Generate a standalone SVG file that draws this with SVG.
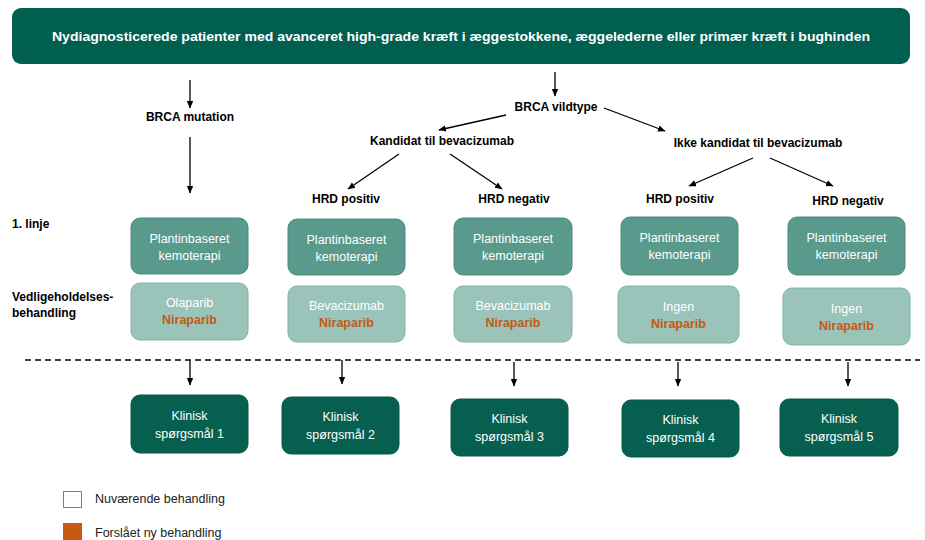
<svg xmlns="http://www.w3.org/2000/svg" width="925" height="540" viewBox="0 0 925 540">
<defs>
<marker id="ah" markerWidth="8" markerHeight="8" refX="7" refY="4" orient="auto" markerUnits="userSpaceOnUse">
<path d="M0,0.8 L7.5,4 L0,7.2 Z" fill="#000"/>
</marker>
<style>
text{font-family:"Liberation Sans",Arial,sans-serif;}
.lbl{font-size:12px;font-weight:bold;fill:#000;text-anchor:middle;}
.side{font-size:12px;font-weight:bold;fill:#000;}
.b1 rect{fill:#5a9a8c;stroke:#4b8a7c;stroke-width:1;}
.b2 rect{fill:#9ac3b9;stroke:#82b2a7;stroke-width:1;}
.bk rect{fill:#07604f;stroke:#05594a;stroke-width:1;}
.t{font-size:12.5px;fill:#fff;text-anchor:middle;}
.o{font-size:12.5px;font-weight:bold;fill:#c55a11;text-anchor:middle;}
.conn line{stroke:#000;stroke-width:1.3;marker-end:url(#ah);}
.leg{font-size:12.5px;fill:#222;}
</style>
</defs>
<rect width="925" height="540" fill="#fff"/>

<g id="top">
<rect x="12" y="8" width="898" height="56" rx="9" fill="#005f4f"/>
<text x="461" y="41" fill="#fff" font-size="13" font-weight="bold" text-anchor="middle" textLength="818" lengthAdjust="spacingAndGlyphs">Nydiagnosticerede  patienter med avanceret high-grade  kræft i æggestokkene, æggelederne eller primær  kræft i bughinden</text>
</g>

<g id="labels">
<text class="lbl" x="190" y="121">BRCA mutation</text>
<text class="lbl" x="556" y="111">BRCA vildtype</text>
<text class="lbl" x="442" y="145">Kandidat til bevacizumab</text>
<text class="lbl" x="758" y="147">Ikke kandidat til bevacizumab</text>
<text class="lbl" x="346" y="203">HRD positiv</text>
<text class="lbl" x="514" y="203">HRD negativ</text>
<text class="lbl" x="680" y="203">HRD positiv</text>
<text class="lbl" x="848" y="205">HRD negativ</text>
<text class="side" x="12" y="228">1. linje</text>
<text class="side" x="12" y="301">Vedligeholdelses-</text>
<text class="side" x="12" y="317">behandling</text>
</g>

<g class="conn" id="connectors">
<line x1="190" y1="80" x2="190" y2="108"/>
<line x1="190" y1="137" x2="190" y2="193"/>
<line x1="555" y1="72" x2="555" y2="96"/>
<line x1="506" y1="115" x2="439" y2="130"/>
<line x1="604" y1="108" x2="665" y2="131"/>
<line x1="399" y1="154" x2="348" y2="189"/>
<line x1="450" y1="154" x2="502" y2="189"/>
<line x1="753" y1="158" x2="689" y2="186"/>
<line x1="770" y1="158" x2="833" y2="186"/>
<line x1="25" y1="360" x2="920" y2="360" style="marker-end:none;stroke-dasharray:6 4;stroke-width:1.4"/>
<line x1="190" y1="360" x2="190" y2="385"/>
<line x1="342" y1="360" x2="342" y2="384"/>
<line x1="514" y1="362" x2="514" y2="386"/>
<line x1="678" y1="362" x2="678" y2="386"/>
<line x1="848" y1="362" x2="848" y2="386"/>
</g>

<g id="chemo1" class="b1"><rect x="131" y="218" width="117" height="56" rx="9"/><text class="t" x="189.5" y="243">Plantinbaseret</text><text class="t" x="189.5" y="260">kemoterapi</text></g>
<g id="chemo2" class="b1"><rect x="288" y="219" width="117" height="56" rx="9"/><text class="t" x="346.5" y="244">Plantinbaseret</text><text class="t" x="346.5" y="261">kemoterapi</text></g>
<g id="chemo3" class="b1"><rect x="454" y="218" width="118" height="57" rx="9"/><text class="t" x="513" y="243">Plantinbaseret</text><text class="t" x="513" y="260">kemoterapi</text></g>
<g id="chemo4" class="b1"><rect x="621" y="217" width="117" height="58" rx="9"/><text class="t" x="679.5" y="242">Plantinbaseret</text><text class="t" x="679.5" y="259">kemoterapi</text></g>
<g id="chemo5" class="b1"><rect x="788" y="217" width="117" height="58" rx="9"/><text class="t" x="846.5" y="242">Plantinbaseret</text><text class="t" x="846.5" y="259">kemoterapi</text></g>

<g id="maint1" class="b2"><rect x="131" y="283" width="117" height="57" rx="9"/><text class="t" x="189.5" y="307">Olaparib</text><text class="o" x="189.5" y="324">Niraparib</text></g>
<g id="maint2" class="b2"><rect x="288" y="286" width="117" height="56" rx="9"/><text class="t" x="346.5" y="310">Bevacizumab</text><text class="o" x="346.5" y="327">Niraparib</text></g>
<g id="maint3" class="b2"><rect x="454" y="286" width="118" height="56" rx="9"/><text class="t" x="513" y="310">Bevacizumab</text><text class="o" x="513" y="327">Niraparib</text></g>
<g id="maint4" class="b2"><rect x="618" y="286" width="121" height="57" rx="9"/><text class="t" x="678.5" y="311">Ingen</text><text class="o" x="678.5" y="328">Niraparib</text></g>
<g id="maint5" class="b2"><rect x="783" y="288" width="127" height="57" rx="9"/><text class="t" x="846.5" y="313">Ingen</text><text class="o" x="846.5" y="330">Niraparib</text></g>

<g id="q1" class="bk"><rect x="131" y="395" width="117" height="58" rx="9"/><text class="t" x="189.5" y="420">Klinisk</text><text class="t" x="189.5" y="438">spørgsmål 1</text></g>
<g id="q2" class="bk"><rect x="282" y="397" width="117" height="57" rx="9"/><text class="t" x="340.5" y="421">Klinisk</text><text class="t" x="340.5" y="439">spørgsmål 2</text></g>
<g id="q3" class="bk"><rect x="451" y="399" width="117" height="57" rx="9"/><text class="t" x="509.5" y="423">Klinisk</text><text class="t" x="509.5" y="441">spørgsmål 3</text></g>
<g id="q4" class="bk"><rect x="622" y="400" width="117" height="57" rx="9"/><text class="t" x="680.5" y="424">Klinisk</text><text class="t" x="680.5" y="442">spørgsmål 4</text></g>
<g id="q5" class="bk"><rect x="780" y="399" width="118" height="57" rx="9"/><text class="t" x="839" y="423">Klinisk</text><text class="t" x="839" y="441">spørgsmål 5</text></g>

<g id="legend">
<rect x="63.5" y="491.5" width="18" height="16" fill="#fff" stroke="#808080" stroke-width="1"/>
<text class="leg" x="95" y="503">Nuværende behandling</text>
<rect x="63" y="523" width="19" height="17" fill="#c55a11"/>
<text class="leg" x="95" y="537">Forslået ny behandling</text>
</g>
</svg>
